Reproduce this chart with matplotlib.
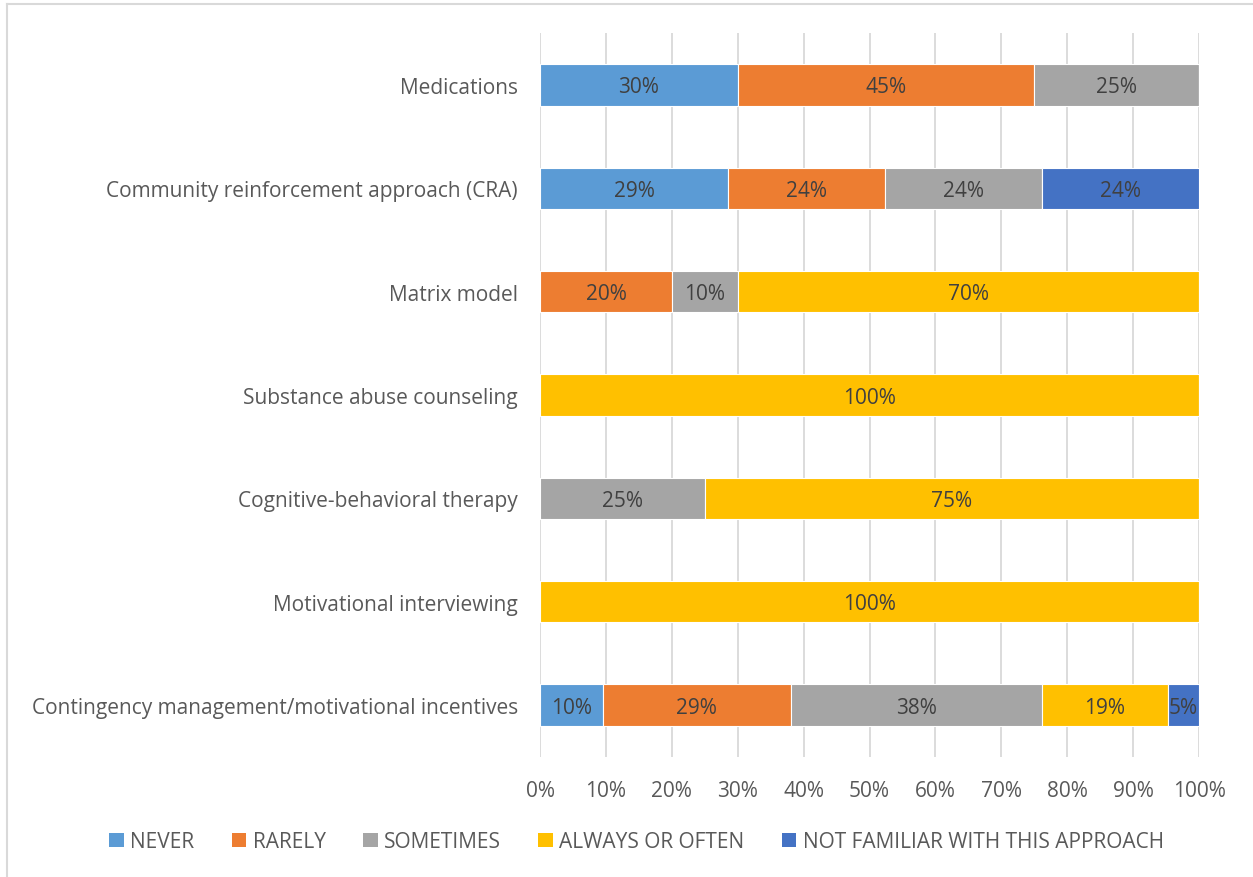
import numpy as np
import matplotlib.pyplot as plt
from matplotlib.lines import Line2D
from matplotlib.patches import Patch

plt.rcParams['font.family'] = ['Open Sans', 'DejaVu Sans']

# dati (percentuali per riga, dall'alto in basso)
categorie = ['Medications',
             'Community reinforcement approach (CRA)',
             'Matrix model',
             'Substance abuse counseling',
             'Cognitive-behavioral therapy',
             'Motivational interviewing',
             'Contingency management/motivational incentives']
serie = ['NEVER', 'RARELY', 'SOMETIMES', 'ALWAYS OR OFTEN', 'NOT FAMILIAR WITH THIS APPROACH']
never = [30, 28.57, 0, 0, 0, 0, 9.52]
rarely = [45, 23.81, 20, 0, 0, 0, 28.57]
sometimes = [25, 23.81, 10, 0, 25, 0, 38.10]
always = [0, 0, 70, 100, 75, 100, 19.05]
not_familiar = [0, 23.81, 0, 0, 0, 0, 4.76]

colori = ['#5B9BD5', '#ED7D31', '#A5A5A5', '#FFC000', '#4472C4']
testo = '#595959'
fs = 15

fig = plt.figure(figsize=(12.53, 8.78), dpi=100)
ax = fig.add_axes([0.431, 0.137, 0.526, 0.824])

y = np.arange(len(categorie))
sinistra = np.zeros(len(categorie))
for valori, nome, col in zip([never, rarely, sometimes, always, not_familiar], serie, colori):
    valori = np.array(valori)
    ax.barh(y, valori, left=sinistra, height=0.4, color=col, edgecolor='white', linewidth=0.8, label=nome, zorder=3)
    for yi, v, l in zip(y, valori, sinistra):
        if v > 0:
            ax.text(l + v / 2, yi + 0.02, f'{v:.0f}%', ha='center', va='center', fontsize=fs, color='#404040', zorder=4)
    sinistra += valori

ax.set_ylim(len(categorie) - 0.5, -0.5)
ax.set_xlim(0, 100)
ax.set_yticks(y)
ax.set_yticklabels(categorie, fontsize=fs, color=testo)
ax.set_xticks(np.arange(0, 101, 10))
ax.set_xticklabels([f'{t}%' for t in range(0, 101, 10)], fontsize=fs, color=testo)
ax.tick_params(axis='both', length=0)
ax.tick_params(axis='y', pad=16)
ax.tick_params(axis='x', pad=17)
ax.grid(axis='x', color='#D9D9D9', linewidth=1.3, zorder=0)
for s in ax.spines.values():
    s.set_visible(False)

handles = [Patch(facecolor=c, edgecolor='none') for c in colori]
fig.legend(handles, serie, loc='center', bbox_to_anchor=(0.508, 0.04), ncol=5, frameon=False,
           fontsize=fs, labelcolor=testo, handlelength=0.7, handleheight=0.7,
           handletextpad=0.3, columnspacing=1.8)

# cornice grigia (solo sinistra e sopra visibili)
fig.add_artist(Line2D([0.0055, 0.0055], [0, 0.994], color='#D9D9D9', lw=1.5, transform=fig.transFigure))
fig.add_artist(Line2D([0.0055, 1], [0.994, 0.994], color='#D9D9D9', lw=1.5, transform=fig.transFigure))

fig.savefig('out.png', dpi=100)
